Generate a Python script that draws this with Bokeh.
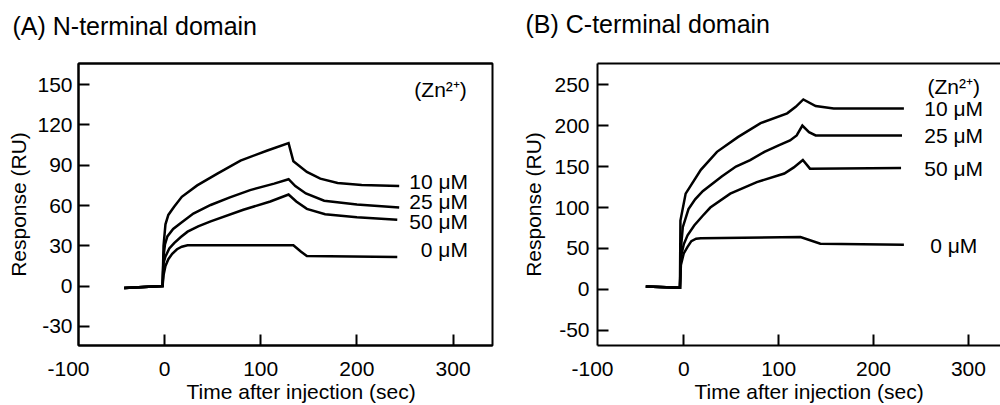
from bokeh.plotting import figure
from bokeh.layouts import row
from bokeh.models import Range1d, FixedTicker, LinearAxis, Title, ColumnDataSource
from bokeh.embed import file_html
from bokeh.resources import INLINE
from bokeh.core.properties import value

FONT = "Liberation Sans"

# ---------------- data: (A) N-terminal domain ----------------
a_t_10 = [-42, -2, -1, 1, 4, 10, 18, 34, 55, 79, 107, 129, 134, 148, 162, 180, 205, 244]
a_v_10 = [-1.5, 0, 30, 46, 53, 59, 66.5, 75, 83.7, 93.5, 101, 106.5, 93, 85, 80, 76.8, 75.3, 74.6]
a_t_25 = [-42, -2, -1, 0.5, 3, 9, 17, 30, 48, 68, 89, 114, 129, 136, 147, 166, 200, 244]
a_v_25 = [-1.5, 0, 22, 31, 37, 42.5, 47, 54, 60.4, 66, 71.5, 76.3, 79.6, 74.5, 69, 63.6, 60.8, 58.5]
a_t_50 = [-42, -2, -1, 1, 5, 10, 17, 24, 35, 48, 82, 110, 129, 137, 148, 167, 200, 242]
a_v_50 = [-1.5, 0, 17, 22, 28, 32, 36.5, 40.5, 44.5, 48.2, 56.8, 63, 68.2, 63, 57.5, 53.5, 51.2, 49.4]
a_t_0 = [-42, -2, -1, 1, 4, 8, 13, 18, 24, 134, 142, 148, 242]
a_v_0 = [-1.5, 0, 8, 15, 20, 24, 27.4, 29.3, 30.3, 30.3, 25.5, 22.4, 21.7]

# ---------------- data: (B) C-terminal domain ----------------
b_t_10 = [-40, -4, -3.5, 2, 18, 35, 57, 81, 109, 118, 126, 139, 158, 232]
b_v_10 = [3.7, 2, 84, 117, 146, 168, 186, 203, 215, 223, 232, 224, 221, 221]
b_t_25 = [-40, -4, -3, -1, 5, 12, 20, 40, 55, 70, 85, 100, 112, 119, 125, 132, 139, 230]
b_v_25 = [3.7, 2, 50, 76, 98, 110, 120, 138, 150, 158, 168, 176, 182, 188, 200, 192, 188, 188]
b_t_50 = [-40, -4, -3, 0, 4, 11, 20, 28, 49, 77, 106, 116, 125.5, 133, 229]
b_v_50 = [3.7, 2, 40, 55, 66, 78, 90, 100, 117, 131, 141.5, 149, 158, 147.5, 148.3]
b_t_0 = [-40, -4, -3, 0, 4, 8, 13, 18, 123, 144, 232]
b_v_0 = [3.7, 2, 30, 44, 52, 59, 62, 62.5, 64, 55.9, 54.6]

# in-plot labels
label_texts = ["(Zn\u00b2\u207a)", "10 \u03bcM", "25 \u03bcM", "50 \u03bcM", "0 \u03bcM"]
a_label_x = [287, 285, 285, 285, 291]
a_label_y = [146.7, 77.6, 62.9, 48.2, 27.4]
b_label_x = [284.5, 284.5, 284.5, 284.5, 284.5]
b_label_y = [248.2, 220.9, 188.3, 147.6, 53.8]

x_ticks = [0, 100, 200, 300]
a_y_ticks = [-30, 0, 30, 60, 90, 120, 150]
b_y_ticks = [-50, 0, 50, 100, 150, 200, 250]

TICK_SIZE = "21px"
AXLAB_SIZE = "21px"
TEXT_SIZE = "21px"
TITLE_SIZE = "25px"
H = 405


def style_axis(ax):
    ax.major_tick_in = 11
    ax.major_tick_out = 0
    ax.minor_tick_in = 0
    ax.minor_tick_out = 0
    ax.axis_line_width = 2
    ax.axis_line_color = "black"
    ax.major_tick_line_width = 2
    ax.major_tick_line_color = "black"
    ax.major_label_text_font = FONT
    ax.major_label_text_font_size = TICK_SIZE
    ax.major_label_text_color = "black"
    ax.axis_label_text_font = FONT
    ax.axis_label_text_font_size = AXLAB_SIZE
    ax.axis_label_text_font_style = "normal"
    ax.axis_label_text_color = "black"


def text_title(text, size, offset, standoff):
    return Title(text=text, align="left", offset=offset, vertical_align="top",
                 standoff=standoff, text_font=FONT, text_font_size=size,
                 text_font_style="normal", text_color="black")


def make_panel(title, width, xr, yr, yticks, borders, title_offset, title_standoff, top_gap,
               curves, lab_x, lab_y, ylab_standoff, ytick_standoff,
               xlab_offset, m100_offset, full_box):
    p = figure(width=width, height=H, x_range=Range1d(*xr), y_range=Range1d(*yr),
               output_backend="svg", toolbar_location=None,
               min_border_left=borders[0], min_border_right=borders[1],
               min_border_top=borders[2], min_border_bottom=borders[3])
    p.grid.visible = False
    p.background_fill_color = "white"
    p.border_fill_color = "white"
    p.title.text = title
    p.title.text_font = FONT
    p.title.text_font_size = TITLE_SIZE
    p.title.text_font_style = "normal"
    p.title.text_color = "black"
    p.title.offset = title_offset
    p.title.vertical_align = "top"
    p.title.standoff = title_standoff
    p.xaxis.ticker = FixedTicker(ticks=x_ticks)
    p.yaxis.ticker = FixedTicker(ticks=yticks)
    p.yaxis.major_label_overrides = {t: "-%d" % (-t) for t in yticks if t < 0}
    p.yaxis.axis_label = "Response (RU)"
    p.yaxis.axis_label_standoff = ylab_standoff
    p.yaxis.major_label_standoff = ytick_standoff
    p.xaxis.major_label_standoff = 16
    for ax in p.axis:
        style_axis(ax)
    if full_box:
        p.outline_line_color = "black"
        p.outline_line_width = 2
        p.outline_line_alpha = 1
    else:
        p.outline_line_color = None
    # top border line; one invisible outward tick spaces the title from the frame
    top = LinearAxis(ticker=FixedTicker(ticks=[0]))
    style_axis(top)
    top.major_tick_in = 0
    top.major_tick_out = top_gap
    top.major_tick_line_color = None
    top.major_label_overrides = {0: ""}
    top.major_label_text_font_size = "0px"
    top.major_label_standoff = 0
    p.add_layout(top, "above")
    for t, v in curves:
        p.line(t, v, line_color="black", line_width=2.5, line_join="miter")
    src = ColumnDataSource(dict(x=lab_x, y=lab_y, text=label_texts))
    p.text(x="x", y="y", text="text", source=src, text_font=value(FONT),
           text_font_size=TEXT_SIZE, text_align="center", text_baseline="middle",
           text_color="black")
    # x-axis title and the "-100" tick label that sits left of the frame
    p.add_layout(text_title("Time after injection (sec)", AXLAB_SIZE, xlab_offset, 2), "below")
    p.add_layout(text_title("-100", TICK_SIZE, m100_offset, -87), "below")
    return p


pa = make_panel("(A) N-terminal domain", 518, (-89.4, 341), (-44.3, 165.8), a_y_ticks,
                (78, 26, 60, 59), -66, 8, 18,
                [(a_t_10, a_v_10), (a_t_25, a_v_25), (a_t_50, a_v_50), (a_t_0, a_v_0)],
                a_label_x, a_label_y, 4, 6, 108, -31, True)
pb = make_panel("(B) C-terminal domain", 482, (-90.9, 333.8), (-68.5, 275.9), b_y_ticks,
                (79, 0, 63, 60), -72, 10, 19,
                [(b_t_10, b_v_10), (b_t_25, b_v_25), (b_t_50, b_v_50), (b_t_0, b_v_0)],
                b_label_x, b_label_y, 6, 8, 97, -26, False)

layout = row(pa, pb)
open("out.html", "w").write(file_html(layout, INLINE))
